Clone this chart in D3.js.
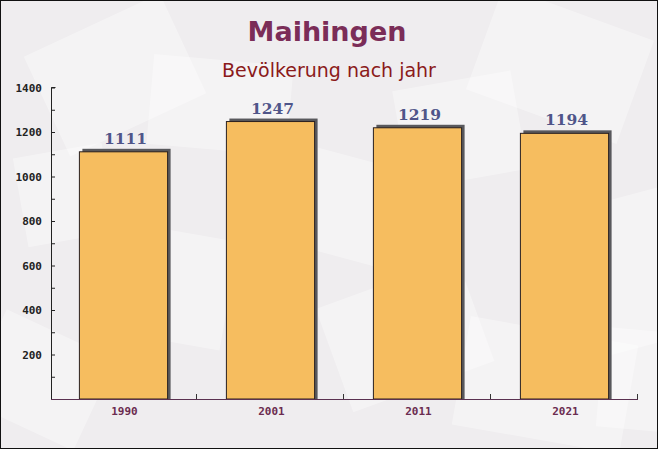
<!DOCTYPE html>
<html><head><meta charset="utf-8">
<script src="https://cdn.jsdelivr.net/npm/d3@7"></script>
<style>html,body{margin:0;padding:0;background:#fff}svg{display:block}</style>
</head><body>
<script>
const categories = ["1990", "2001", "2011", "2021"];
const values = [1111, 1247, 1219, 1194];
const yTicks = [200, 400, 600, 800, 1000, 1200, 1400];
const title = "Maihingen";
const subtitle = "Bevölkerung nach jahr";

const W = 658, H = 449;
const svg = d3.select("body").append("svg").attr("width", W).attr("height", H);

// background
svg.append("rect").attr("x", 0).attr("y", 0).attr("width", W).attr("height", H).attr("fill", "#efedef");
const deco = [
  [40, 20, 150, 110, -25], [250, 150, 140, 100, 15], [480, 10, 160, 110, 20], [560, 200, 120, 150, -15],
  [100, 230, 130, 110, 10], [330, 280, 150, 110, -20], [460, 330, 170, 110, 10], [-20, 330, 120, 100, 25],
  [150, 60, 140, 90, 5], [400, 80, 120, 100, -10], [600, 330, 80, 100, 5], [20, 150, 90, 90, -10]
];
svg.append("g").selectAll("rect").data(deco).join("rect")
  .attr("x", d => d[0]).attr("y", d => d[1]).attr("width", d => d[2]).attr("height", d => d[3])
  .attr("transform", d => `rotate(${d[4]},${d[0] + d[2] / 2},${d[1] + d[3] / 2})`)
  .attr("fill", "#ffffff").attr("opacity", 0.35);

const x = d3.scaleBand().domain(categories).range([50, 638]).padding(0);
const y = d3.scaleLinear().domain([0, 1400]).range([399, 87.5]);

// titles
svg.append("text").attr("x", W / 2 - 2).attr("y", 41).attr("text-anchor", "middle")
  .attr("font-family", "'DejaVu Sans', sans-serif").attr("font-weight", "bold").attr("font-size", 27)
  .attr("fill", "#7b2d58").text(title);
svg.append("text").attr("x", W / 2).attr("y", 77).attr("text-anchor", "middle")
  .attr("font-family", "'DejaVu Sans', sans-serif").attr("font-size", 19)
  .attr("fill", "#8b1a1a").text(subtitle);

// bars
const bw = x.bandwidth() * 0.6;
const cx = c => x(c) + x.bandwidth() / 2;
const g = svg.append("g");
g.selectAll("rect.shadow").data(values).join("rect").attr("class", "shadow")
  .attr("x", (d, i) => cx(categories[i]) - bw / 2 + 3).attr("y", d => y(d) - 3)
  .attr("width", bw).attr("height", d => y(0) - y(d) + 3)
  .attr("fill", "#58585c");
g.selectAll("rect.bar").data(values).join("rect").attr("class", "bar")
  .attr("x", (d, i) => cx(categories[i]) - bw / 2).attr("y", d => y(d))
  .attr("width", bw).attr("height", d => y(0) - y(d))
  .attr("fill", "#f6bd5f").attr("stroke", "#2a2020").attr("stroke-width", 1);
g.selectAll("text.val").data(values).join("text").attr("class", "val")
  .attr("x", (d, i) => cx(categories[i]) + 2).attr("y", d => y(d) - 8)
  .attr("text-anchor", "middle").attr("font-family", "'DejaVu Serif', serif").attr("font-weight", "bold")
  .attr("font-size", 15.5).attr("fill", "#4f5589").text(d => d);

// y axis
const yAxis = d3.axisRight(y).tickValues(d3.range(0, 1401, 100)).tickSize(4).tickFormat("");
const ya = svg.append("g").attr("transform", "translate(51,0)").call(yAxis);
ya.select(".domain").attr("stroke", "#222").attr("d", `M0.5,${y(1400)}H4.5M0.5,${y(1400)}V${y(0)}`);
ya.selectAll(".tick line").attr("stroke", "#222");
svg.append("g").selectAll("text").data(yTicks).join("text")
  .attr("x", 42).attr("y", d => y(d) + 4).attr("text-anchor", "end")
  .attr("font-family", "'DejaVu Sans Mono', monospace").attr("font-weight", "bold").attr("font-size", 11)
  .attr("fill", "#222").text(d => d);

// x axis
const xa = svg.append("g").attr("transform", `translate(0,${y(0)})`);
xa.append("line").attr("x1", 51).attr("x2", 638).attr("y1", 0.5).attr("y2", 0.5).attr("stroke", "#5a3050");
xa.selectAll("line.t").data(categories).join("line").attr("class", "t")
  .attr("x1", c => Math.round(x(c) + x.bandwidth()) - 0.5).attr("x2", c => Math.round(x(c) + x.bandwidth()) - 0.5)
  .attr("y1", -5).attr("y2", 0).attr("stroke", "#333");
xa.selectAll("text").data(categories).join("text")
  .attr("x", c => cx(c) + 1).attr("y", 16).attr("text-anchor", "middle")
  .attr("font-family", "'DejaVu Sans Mono', monospace").attr("font-weight", "bold").attr("font-size", 11)
  .attr("fill", "#6b2c50").text(c => c);

// border
svg.append("rect").attr("x", 0.5).attr("y", 0.5).attr("width", W - 1).attr("height", H - 1)
  .attr("fill", "none").attr("stroke", "#111");
</script>
</body></html>
